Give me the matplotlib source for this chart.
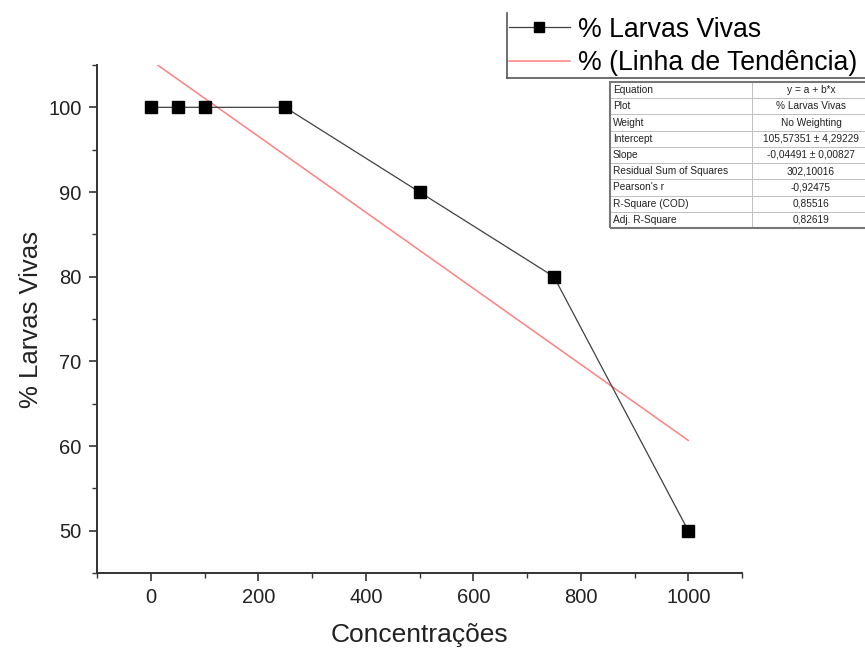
import matplotlib
matplotlib.use("Agg")
import matplotlib.pyplot as plt
import numpy as np
from matplotlib.ticker import MultipleLocator
from matplotlib.lines import Line2D

plt.rcParams['font.family'] = ['Liberation Sans', 'DejaVu Sans']

conc = [0, 50, 100, 250, 500, 750, 1000]
larvas = [100, 100, 100, 100, 90, 80, 50]
intercept = 105.57351
slope = -0.04491

table_labels = ["Equation", "Plot", "Weight", "Intercept", "Slope",
                "Residual Sum of Squares", "Pearson's r", "R-Square (COD)", "Adj. R-Square"]
table_values = ["y = a + b*x", "% Larvas Vivas", "No Weighting", "105,57351 ± 4,29229",
                "-0,04491 ± 0,00827", "302,10016", "-0,92475", "0,85516", "0,82619"]

W, H = 865, 650
fig = plt.figure(figsize=(W/100, H/100), dpi=100)
ax = fig.add_axes([97/W, 1-573/H, (742-97)/W, (573-65)/H])

ax.plot(conc, larvas, color='#404040', lw=0.9, marker='s', ms=8,
        mfc='black', mec='black', zorder=3)
xf = np.array([min(conc), max(conc)])
ax.plot(xf, intercept + slope*xf, color='#ff8080', lw=1.1, zorder=2)

ax.set_xlim(-100, 1100)
ax.set_ylim(45, 105)
ax.xaxis.set_major_locator(MultipleLocator(200))
ax.xaxis.set_minor_locator(MultipleLocator(100))
ax.yaxis.set_major_locator(MultipleLocator(10))
ax.yaxis.set_minor_locator(MultipleLocator(5))
for s in ['top', 'right']:
    ax.spines[s].set_visible(False)
for s in ['left', 'bottom']:
    ax.spines[s].set_linewidth(1.4)
    ax.spines[s].set_color('#333333')
ax.tick_params(which='major', direction='out', length=6, width=1.2, colors='#333333',
               labelsize=14.5, labelcolor='#222222', pad=5)
ax.tick_params(which='minor', direction='out', length=3.5, width=1.0, colors='#333333')
ax.set_xlabel('Concentrações', fontsize=19, color='#222222')
ax.set_ylabel('% Larvas Vivas', fontsize=18.5, color='#222222')
ax.yaxis.set_label_coords(-0.102, 0.5)
ax.xaxis.set_label_coords(0.5, -0.122)
ax.xaxis.label.set_va('center')
ax.yaxis.label.set_va('center')

# legend
h1 = Line2D([], [], color='#404040', lw=0.9, marker='s', ms=7, mfc='black', mec='black')
h2 = Line2D([], [], color='#ff8080', lw=1.1)
leg = fig.legend([h1, h2], ['% Larvas Vivas', '% (Linha de Tendência)'],
                 loc='upper left', bbox_to_anchor=(506/W, 1-14/H), frameon=False,
                 fontsize=19.2, handlelength=2.3, handletextpad=0.3, labelspacing=0.28,
                 borderpad=0.1, borderaxespad=0)
fig.add_artist(Line2D([507/W, 507/W], [1-78/H, 1-13/H], color='#555555', lw=1.2))
fig.add_artist(Line2D([507/W, 1.0], [1-78/H, 1-78/H], color='#555555', lw=1.2))

# table
tax = fig.add_axes([610/W, 1-228/H, (870-610)/W, (228-82)/H])
tax.axis('off')
cells = [[a, b] for a, b in zip(table_labels, table_values)]
tbl = tax.table(cellText=cells, bbox=[0, 0, 1, 1], colWidths=[142, 118],
                cellLoc='left')
tbl.auto_set_font_size(False)
tbl.set_fontsize(7.3)
for (r, c), cell in tbl.get_celld().items():
    cell.set_edgecolor('#bbbbbb')
    cell.set_linewidth(0.6)
    cell.PAD = 0.02
    cell.get_text().set_color('#222222')
    if c == 1:
        cell._loc = 'center'
        cell.get_text().set_ha('center')
tax.add_patch(plt.Rectangle((0, 0), 1, 1, transform=tax.transAxes, fill=False,
                            edgecolor='#777777', lw=1.5, clip_on=False))

fig.savefig('out.png', dpi=100)
